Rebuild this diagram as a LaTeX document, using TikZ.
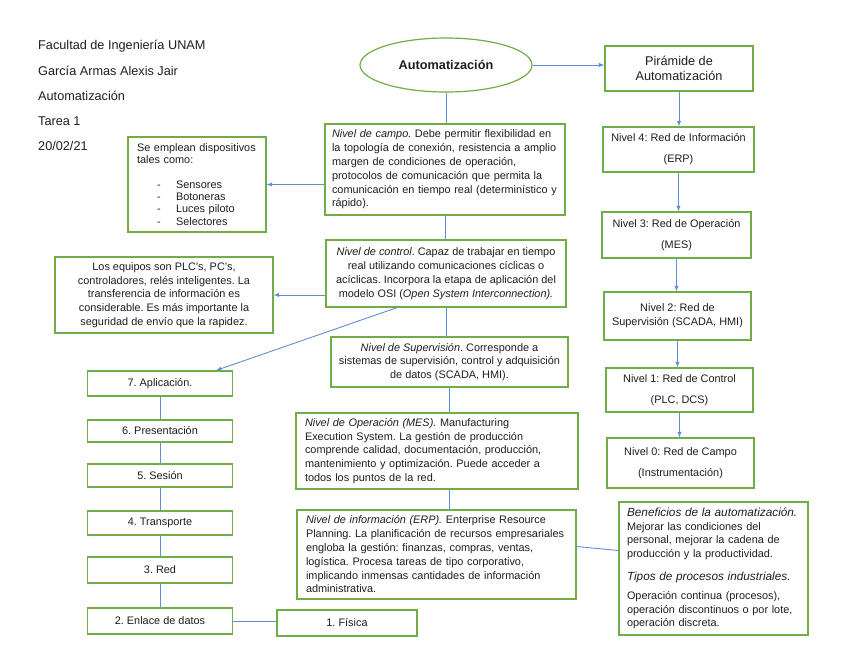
\documentclass[tikz,border=0pt]{standalone}
\usepackage{fontspec}
\setmainfont{Liberation Sans}
\usetikzlibrary{shapes.geometric}
\definecolor{verde}{RGB}{112,173,71}
\definecolor{azul}{RGB}{96,142,214}
\definecolor{texto}{RGB}{30,30,30}
\frenchspacing
\begin{document}
\begin{tikzpicture}[x=1pt,y=-1pt,
  caja/.style={draw=verde,line width=1.2pt,text=texto,font=\fontsize{10.9}{13.8}\selectfont,inner sep=0pt},
  nivel/.style={caja,align=center},
  parrafo/.style={caja,align=left,inner xsep=8pt},
  osi/.style={caja,minimum width=145pt,minimum height=24pt},
  linea/.style={draw=azul,line width=0.9pt},
  flecha/.style={linea,->,>=latex},
  encabezado/.style={anchor=west,inner sep=0pt,text=texto,font=\fontsize{12.7}{15}\selectfont}]
\useasboundingbox (0,0) rectangle (848,655);
\node[encabezado] (facultad) at (38,46) {Facultad de Ingeniería UNAM};
\node[encabezado] (alumno) at (38,71) {García Armas Alexis Jair};
\node[encabezado] (materia) at (38,96) {Automatización};
\node[encabezado] (tarea) at (38,121) {Tarea 1};
\node[encabezado] (fecha) at (38,146) {20/02/21};

\node[ellipse,draw=verde,line width=1.2pt,text=texto,minimum width=172pt,minimum height=54pt,font=\bfseries\fontsize{12.7}{15}\selectfont] (auto) at (446,65) {Automatización};
\node[nivel,minimum width=148pt,minimum height=45pt,font=\fontsize{12.7}{15.5}\selectfont] (piramide) at (679,68.5) {Pirámide de\\Automatización};

\node[nivel,minimum width=151pt,minimum height=45pt] (n4) at (678.5,149.5) {Nivel 4: Red de Información\\[7pt](ERP)};
\node[nivel,minimum width=149pt,minimum height=46pt] (n3) at (676.5,235) {Nivel 3: Red de Operación\\[7pt](MES)};
\node[nivel,minimum width=147pt,minimum height=48pt] (n2) at (677.5,316) {Nivel 2: Red de\\Supervisión (SCADA, HMI)};
\node[nivel,minimum width=147pt,minimum height=44pt] (n1) at (679.5,390) {Nivel 1: Red de Control\\[7pt](PLC, DCS)};
\node[nivel,minimum width=147pt,minimum height=50pt] (n0) at (680.5,463) {Nivel 0: Red de Campo\\[7pt](Instrumentación)};

\node[parrafo,text width=226pt,inner xsep=7pt,minimum height=91pt] (campo) at (445,169.5) {\textit{Nivel de campo.} Debe permitir flexibilidad en\\la topología de conexión, resistencia a amplio\\margen de condiciones de operación,\\protocolos de comunicación que permita la\\comunicación en tiempo real (determinístico y\\rápido).};
\node[nivel,minimum width=240pt,minimum height=67pt] (ctrl) at (446,273.5) {\textit{Nivel de control}. Capaz de trabajar en tiempo\\real utilizando comunicaciones cíclicas o\\acíclicas. Incorpora la etapa de aplicación del\\modelo OSI (\textit{Open System Interconnection).}};
\node[nivel,minimum width=237pt,minimum height=50pt] (sup) at (449.5,362) {\textit{Nivel de Supervisión}. Corresponde a\\sistemas de supervisión, control y adquisición\\de datos (SCADA, HMI).};
\node[parrafo,text width=264pt,inner xsep=9pt,minimum height=76pt] (op) at (437,451) {\textit{Nivel de Operación (MES).} Manufacturing\\Execution System. La gestión de producción\\comprende calidad, documentación, producción,\\mantenimiento y optimización. Puede acceder a\\todos los puntos de la red.};
\node[parrafo,text width=261pt,inner xsep=9pt,minimum height=89pt] (info) at (436.5,554.5) {\textit{Nivel de información (ERP).} Enterprise Resource\\Planning. La planificación de recursos empresariales\\engloba la gestión: finanzas, compras, ventas,\\logística. Procesa tareas de tipo corporativo,\\implicando inmensas cantidades de información\\administrativa.};
\node[nivel,minimum width=140pt,minimum height=26pt] (fisica) at (347,623) {1. Física};
\node[parrafo,text width=173pt,inner xsep=8pt,minimum height=133pt,font=\fontsize{10.9}{13.6}\selectfont] (benef) at (713.5,568.5) {{\itshape\fontsize{11.8}{14}\selectfont Beneficios de la automatización.}\\Mejorar las condiciones del\\personal, mejorar la cadena de\\producción y la productividad.\\[9pt]{\itshape\fontsize{11.8}{14}\selectfont Tipos de procesos industriales.}\\[6pt]Operación continua (procesos),\\operación discontinuos o por lote,\\operación discreta.};

\node[parrafo,text width=120pt,inner xsep=9pt,minimum height=95pt,font=\fontsize{10.9}{12.4}\selectfont] (disp) at (197,184.5) {Se emplean dispositivos\\tales como:\\[12pt]\makebox[20pt]{}\makebox[19pt][l]{-}Sensores\\\makebox[20pt]{}\makebox[19pt][l]{-}Botoneras\\\makebox[20pt]{}\makebox[19pt][l]{-}Luces piloto\\\makebox[20pt]{}\makebox[19pt][l]{-}Selectores};
\node[nivel,minimum width=218pt,minimum height=76pt] (equipos) at (164,295) {Los equipos son PLC’s, PC’s,\\controladores, relés inteligentes. La\\transferencia de información es\\considerable. Es más importante la\\seguridad de envío que la rapidez.};

\node[osi,minimum height=25pt] (apl) at (160,383.5) {7. Aplicación.};
\node[osi,minimum height=22pt] (pres) at (160,431) {6. Presentación};
\node[osi,minimum height=23pt] (ses) at (160,475.5) {5. Sesión};
\node[osi] (trans) at (160,523) {4. Transporte};
\node[osi,minimum height=26pt] (red) at (160,570) {3. Red};
\node[osi,minimum height=26pt] (enl) at (160,621) {2. Enlace de datos};

\draw[flecha] (auto.east) -- (piramide.west |- auto.east);
\draw[flecha] (piramide.south) -- (piramide.south |- n4.north);
\draw[flecha] (n4.south) -- (n4.south |- n3.north);
\draw[flecha] (n3.south) -- (n3.south |- n2.north);
\draw[flecha] (n2.south) -- (n2.south |- n1.north);
\draw[flecha] (n1.south) -- (n1.south |- n0.north);
\draw[linea] (auto.south) -- (auto.south |- campo.north);
\draw[flecha] (campo.west |- disp.east) -- (disp.east);
\draw[linea] (campo.south) -- (campo.south |- ctrl.north);
\draw[flecha] (ctrl.west |- equipos.east) -- (equipos.east);
\draw[flecha] ([xshift=-49pt]ctrl.south) -- ([xshift=56pt]apl.north);
\draw[linea] (ctrl.south) -- (ctrl.south |- sup.north);
\draw[linea] (sup.south) -- (sup.south |- op.north);
\draw[linea] (op.south -| sup.south) -- (info.north -| sup.south);
\draw[linea] ([yshift=8pt]info.east) -- ([yshift=18pt]benef.west);
\draw[linea] (apl.south) -- (pres.north);
\draw[linea] (pres.south) -- (ses.north);
\draw[linea] (ses.south) -- (trans.north);
\draw[linea] (trans.south) -- (red.north);
\draw[linea] (red.south) -- (enl.north);
\draw[linea] (enl.east) -- (fisica.west |- enl.east);
\end{tikzpicture}
\end{document}
